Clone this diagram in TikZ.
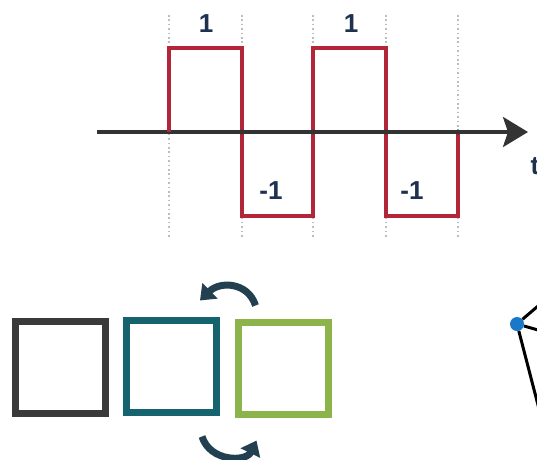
\documentclass[tikz,border=0pt]{standalone}
\usepackage{fontspec}
\setmainfont{Liberation Sans}
\usetikzlibrary{calc,arrows.meta}

\definecolor{axisgray}{HTML}{333333}
\definecolor{pulsered}{HTML}{B3263A}
\definecolor{gridgray}{HTML}{BDBDBD}
\definecolor{labelnavy}{HTML}{1E3250}
\definecolor{boxdark}{HTML}{3A3A3A}
\definecolor{boxteal}{HTML}{14636F}
\definecolor{boxgreen}{HTML}{8DB34B}
\definecolor{swapnavy}{HTML}{234050}
\definecolor{dotblue}{HTML}{1A78C8}

\tikzset{
    level/.style={font=\bfseries\fontsize{26}{26}\selectfont, text=labelnavy},
    cell/.style={rectangle, draw, line width=7pt, minimum width=90pt, minimum height=92pt},
    swap/.style={line width=7pt, color=swapnavy, -{Triangle[length=14pt,width=21pt]}},
}

\begin{document}
\begin{tikzpicture}[x=1pt, y=-1pt]
            \useasboundingbox (0, 0) rectangle (537, 459);

            % dotted guides at the switching times
            \foreach \t in {169, 242, 313, 386, 458}
                \draw[gridgray, line width=1.6pt, dash pattern=on 1.6pt off 2.8pt] (\t, 15) -- (\t, 237);

            % time axis
            \coordinate (t0) at (97, 132);
            \coordinate (t1) at (528, 132);
            \draw[axisgray, line width=3.5pt, -{Stealth[length=25pt,width=30pt,inset=5pt]}] (t0) -- (t1);
            \node[level, anchor=west] (tlab) at (527, 166) {t};

            % square wave
            \draw[pulsered, line width=3.3pt, line join=miter]
                (169, 132) -- (169, 48) -- (242, 48) -- (242, 216) -- (313, 216)
                -- (313, 48) -- (386, 48) -- (386, 216) -- (458, 216) -- (458, 132);
            \foreach \t in {242, 313, 386, 458}
                \fill[axisgray] (\t, 132) circle (2.5pt);

            \node[level] (hi1) at (206, 24) {1};
            \node[level] (hi2) at (351, 24) {1};
            \node[level] (lo1) at (271, 191) {-1};
            \node[level] (lo2) at (412, 191) {-1};

            % three cells
            \node[cell, draw=boxdark] (sq1) at (60.5, 367.5) {};
            \node[cell, draw=boxteal] (sq2) at (171.5, 366) {};
            \node[cell, draw=boxgreen] (sq3) at (283, 368) {};

            % swap arrows between the last two
            \coordinate (ua) at ($(sq3.north west)+(21,-13)$);
            \coordinate (ub) at ($(sq2.north east)+(-20,-16)$);
            \draw[swap] (ua) .. controls (248, 282) and (220, 281) .. (ub);

            \coordinate (la) at ($(sq2.south east)+(-18,21)$);
            \coordinate (lb) at ($(sq3.south west)+(22,23)$);
            \draw[swap] (la) .. controls (210, 462) and (246, 462) .. (lb);

            % node of a graph at the edge
            \node[circle, fill=dotblue, inner sep=0pt, minimum size=14pt] (v) at (517, 324) {};
            \coordinate (e1) at (545, 300);
            \coordinate (e2) at (545, 332);
            \coordinate (e3) at (545, 432);
            \draw[black, line width=3pt] (v) -- (e1);
            \draw[black, line width=3pt] (v) -- (e2);
            \draw[black, line width=3pt] (v) -- (e3);
\end{tikzpicture}
\end{document}
